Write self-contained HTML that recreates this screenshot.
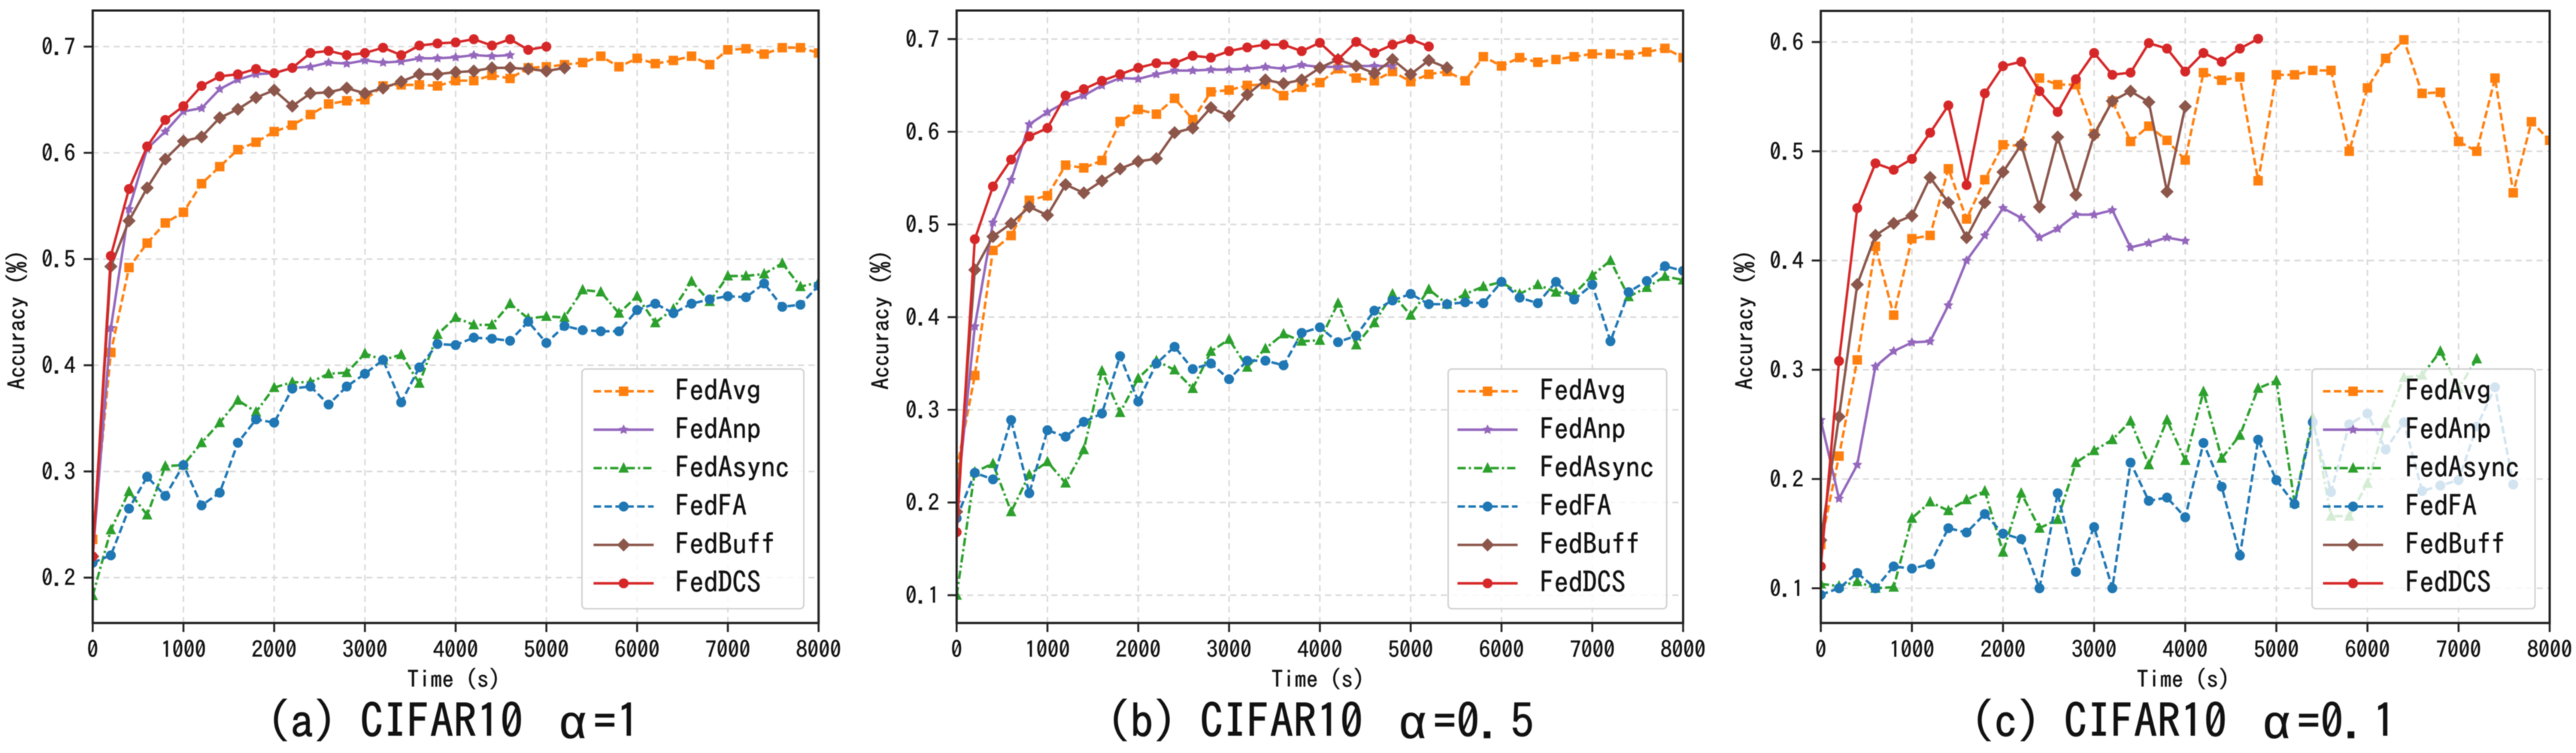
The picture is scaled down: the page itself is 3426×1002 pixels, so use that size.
<!DOCTYPE html>
<html lang="en">
<head>
<meta charset="utf-8">
<title>CIFAR10 accuracy over time</title>
<style>
  html, body { margin: 0; padding: 0; background: #fff; }
  #figure { display: block; width: 3426px; height: 1002px; filter: blur(0.6px); }
  text { font-family: "IPAGothic", "Liberation Mono", "Noto Sans CJK SC", monospace; fill: #111; stroke: #111; stroke-width: 0.45px; }
  .caption { font-size: 62px; stroke-width: 0.7px; }
  .alpha { font-family: "Liberation Sans", sans-serif; }
  .axis-title { font-size: 31px; }
  .tick-label { font-size: 30px; }
  .legend-label { font-size: 38px; }
</style>
</head>
<body>
<svg id="figure" xmlns="http://www.w3.org/2000/svg" width="3426" height="1002" viewBox="0 0 3426 1002">
  <rect x="0" y="0" width="3426" height="1002" fill="#fff"/>
  <g id="panel-a"></g>
  <g id="panel-b"></g>
  <g id="panel-c"></g>
  <text class="caption" x="355" y="982" xml:space="preserve">(a) CIFAR10 <tspan class="alpha" dx="17">α</tspan><tspan dx="9">=1</tspan></text>
  <text class="caption" x="1472" y="982" xml:space="preserve">(b) CIFAR10 <tspan class="alpha" dx="17">α</tspan><tspan dx="9">=0.</tspan><tspan dx="10">5</tspan></text>
  <text class="caption" x="2621" y="982" xml:space="preserve">(c) CIFAR10 <tspan class="alpha" dx="17">α</tspan><tspan dx="9">=0.</tspan><tspan dx="8">1</tspan></text>
</svg>
<script>
// ---------- shared categories and tick labels ----------
const times = [0,200,400,600,800,1000,1200,1400,1600,1800,2000,2200,2400,2600,2800,3000,3200,3400,3600,3800,4000,4200,4400,4600,4800,5000,5200,5400,5600,5800,6000,6200,6400,6600,6800,7000,7200,7400,7600,7800,8000];
const xTicks = [0,1000,2000,3000,4000,5000,6000,7000,8000];
const yTicksA = [0.2,0.3,0.4,0.5,0.6,0.7];
const yTicksB = [0.1,0.2,0.3,0.4,0.5,0.6,0.7];
const yTicksC = [0.1,0.2,0.3,0.4,0.5,0.6];
const seriesNames = ['FedAvg','FedAnp','FedAsync','FedFA','FedBuff','FedDCS'];

// ---------- panel (a) alpha = 1 ----------
const aFedAvg = [.236,.412,.492,.515,.534,.544,.571,.587,.603,.610,.620,.626,.636,.646,.649,.650,.663,.664,.664,.663,.668,.668,.673,.670,.680,.681,.683,.685,.691,.681,.689,.684,.687,.691,.683,.697,.698,.693,.699,.699,.694];
const aFedAnp = [.220,.435,.547,.604,.620,.639,.642,.660,.669,.674,.675,.680,.681,.685,.684,.687,.685,.686,.689,.689,.690,.692,.691,.692];
const aFedAsync = [.183,.245,.281,.259,.305,.306,.327,.346,.367,.356,.379,.384,.384,.392,.393,.411,.405,.410,.383,.429,.445,.438,.438,.458,.444,.446,.445,.471,.469,.449,.465,.440,.453,.479,.460,.484,.484,.486,.496,.474,.478];
const aFedFA = [.214,.221,.265,.295,.277,.306,.268,.280,.327,.349,.346,.378,.380,.363,.380,.392,.405,.365,.398,.420,.419,.426,.425,.423,.441,.421,.437,.433,.432,.432,.452,.458,.449,.458,.462,.465,.464,.477,.455,.457,.475];
const aFedBuff = [.220,.493,.536,.567,.594,.611,.615,.633,.641,.652,.659,.644,.656,.657,.661,.656,.661,.667,.674,.674,.676,.677,.680,.680,.679,.677,.680];
const aFedDCS = [.220,.503,.566,.606,.631,.644,.663,.672,.674,.679,.675,.680,.694,.696,.692,.694,.699,.692,.701,.703,.704,.707,.701,.707,.697,.700];

// ---------- panel (b) alpha = 0.5 ----------
const bFedAvg = [.235,.337,.472,.488,.526,.531,.564,.561,.569,.611,.624,.619,.636,.613,.643,.645,.650,.651,.639,.648,.653,.668,.658,.655,.665,.654,.662,.665,.655,.681,.671,.680,.675,.678,.681,.684,.684,.683,.686,.690,.680];
const bFedAnp = [.200,.390,.502,.548,.608,.621,.632,.639,.650,.658,.657,.662,.666,.666,.667,.667,.668,.670,.668,.672,.670,.670,.671,.671,.671];
const bFedAsync = [.100,.233,.242,.190,.230,.244,.221,.257,.342,.297,.334,.353,.343,.323,.363,.376,.346,.366,.382,.374,.375,.415,.370,.394,.425,.402,.430,.414,.425,.433,.438,.425,.435,.427,.425,.445,.461,.422,.432,.444,.440];
const bFedFA = [.183,.232,.225,.289,.210,.278,.271,.287,.296,.358,.309,.350,.368,.344,.350,.333,.353,.353,.348,.383,.389,.373,.380,.407,.418,.425,.414,.414,.416,.415,.438,.421,.415,.438,.419,.435,.374,.427,.439,.455,.450];
const bFedBuff = [.190,.451,.487,.501,.519,.510,.543,.534,.547,.560,.568,.571,.599,.604,.626,.617,.640,.656,.652,.656,.669,.678,.671,.663,.678,.662,.677,.669];
const bFedDCS = [.168,.484,.541,.570,.595,.604,.639,.646,.655,.662,.669,.674,.674,.682,.680,.687,.691,.694,.694,.687,.696,.678,.697,.685,.694,.700,.692];

// ---------- panel (c) alpha = 0.1 ----------
const cFedAvg = [.140,.221,.309,.413,.350,.420,.423,.484,.438,.474,.506,.505,.567,.561,.561,.516,.546,.509,.523,.510,.492,.572,.565,.568,.473,.570,.570,.574,.574,.500,.558,.585,.602,.553,.554,.509,.500,.567,.462,.527,.510];
const cFedAnp = [.254,.182,.213,.303,.317,.325,.326,.359,.400,.423,.448,.439,.421,.429,.442,.442,.446,.412,.416,.421,.418];
const cFedAsync = [.104,.102,.106,.100,.101,.164,.179,.171,.181,.189,.133,.187,.155,.163,.215,.226,.236,.253,.213,.254,.217,.280,.219,.240,.283,.290,.178,.256,.166,.166,.196,.251,.293,.295,.317,.283,.310];
const cFedFA = [.094,.100,.114,.100,.120,.118,.122,.155,.151,.168,.150,.145,.100,.187,.115,.156,.100,.215,.180,.183,.165,.233,.193,.130,.236,.199,.177,.252,.188,.250,.260,.227,.252,.189,.194,.199,.248,.284,.195];
const cFedBuff = [.144,.257,.378,.423,.434,.441,.476,.453,.421,.453,.481,.506,.449,.513,.460,.515,.546,.555,.545,.463,.541];
const cFedDCS = [.120,.308,.448,.489,.483,.493,.517,.542,.469,.553,.578,.582,.555,.536,.566,.590,.570,.572,.599,.594,.573,.590,.582,.594,.603];

const NS = 'http://www.w3.org/2000/svg';
const styles = [
  { color: '#ff7f0e', dash: '10 4.5',       marker: 'square',   width: 3.3 },
  { color: '#9467bd', dash: '',             marker: 'star',     width: 3.3 },
  { color: '#2ca02c', dash: '11 4 3 4',     marker: 'triangle', width: 3.3 },
  { color: '#1f77b4', dash: '10 4.5',       marker: 'circle',   width: 3.3 },
  { color: '#8c564b', dash: '',             marker: 'diamond',  width: 3.3 },
  { color: '#d62728', dash: '',             marker: 'circle',   width: 3.3 }
];

function svgEl(tag, attrs, parent) {
  const el = document.createElementNS(NS, tag);
  for (const k in attrs) el.setAttribute(k, attrs[k]);
  parent.appendChild(el);
  return el;
}

function drawMarker(kind, cx, cy, color, parent) {
  let el;
  if (kind === 'square') {
    el = svgEl('rect', { x: cx - 6.3, y: cy - 6.3, width: 12.6, height: 12.6, fill: color }, parent);
  } else if (kind === 'circle') {
    el = svgEl('circle', { cx: cx, cy: cy, r: 6.6, fill: color }, parent);
  } else if (kind === 'diamond') {
    const pts = [[cx, cy - 8.8], [cx + 8.8, cy], [cx, cy + 8.8], [cx - 8.8, cy]].map(p => p.join(',')).join(' ');
    el = svgEl('polygon', { points: pts, fill: color }, parent);
  } else if (kind === 'triangle') {
    const pts = [[cx, cy - 8], [cx + 7, cy + 6], [cx - 7, cy + 6]].map(p => p.join(',')).join(' ');
    el = svgEl('polygon', { points: pts, fill: color }, parent);
  } else {
    const ring = [];
    for (let k = 0; k < 10; k++) {
      const r = k % 2 ? 3.6 : 7;
      const a = -Math.PI / 2 + k * Math.PI / 5;
      ring.push((cx + r * Math.cos(a)) + ',' + (cy + r * Math.sin(a)));
    }
    el = svgEl('polygon', { points: ring.join(' '), fill: color }, parent);
  }
  
  
  return el;
}

function drawPanel(id, box, yDomain, yTicks, panelSeries, legend) {
  const root = document.getElementById(id);
  const xScale = v => box.left + (v - 0) / 8000 * (box.right - box.left);
  const yScale = v => box.bottom - (v - yDomain[0]) / (yDomain[1] - yDomain[0]) * (box.bottom - box.top);

  const gridGroup = svgEl('g', { stroke: '#d9d9d9', 'stroke-width': 2, 'stroke-dasharray': '8 6' }, root);
  
  
  xTicks.forEach(t => {
    const line = svgEl('line', { x1: xScale(t), x2: xScale(t), y1: box.bottom, y2: box.top }, gridGroup);
    
    
  });
  yTicks.forEach(t => {
    const line = svgEl('line', { x1: box.left, x2: box.right, y1: yScale(t), y2: yScale(t) }, gridGroup);
    
    
  });

  const clipId = id + '-clip';
  const defs = svgEl('defs', {}, root);
  const clip = svgEl('clipPath', { id: clipId }, defs);
  svgEl('rect', { x: box.left, y: box.top, width: box.right - box.left, height: box.bottom - box.top }, clip);

  const plot = svgEl('g', { 'clip-path': 'url(#' + clipId + ')' }, root);
  
  
  panelSeries.forEach((values, i) => {
    const s = styles[i];
    const g = svgEl('g', {}, plot);
    
    
    const pts = values.map((v, k) => xScale(times[k]) + ',' + yScale(v)).join(' ');
    const attrs = { points: pts, fill: 'none', stroke: s.color, 'stroke-width': s.width, 'stroke-linejoin': 'round' };
    if (s.dash) attrs['stroke-dasharray'] = s.dash;
    const line = svgEl('polyline', attrs, g);
    
    
    values.forEach((v, k) => drawMarker(s.marker, xScale(times[k]), yScale(v), s.color, g));
  });

  const axes = svgEl('g', { stroke: '#222', 'stroke-width': 2.6 }, root);
  
  
  const frame = svgEl('rect', { x: box.left, y: box.top, width: box.right - box.left, height: box.bottom - box.top, fill: 'none', stroke: '#222', 'stroke-width': 3 }, axes);
  
  

  xTicks.forEach(t => {
    const mark = svgEl('line', { x1: xScale(t), x2: xScale(t), y1: box.bottom, y2: box.bottom + 12 }, axes);
    
    
    const label = svgEl('text', { class: 'tick-label', x: xScale(t), y: box.bottom + 46, 'text-anchor': 'middle' }, root);
    
    
    label.textContent = String(t);
  });
  yTicks.forEach(t => {
    const mark = svgEl('line', { x1: box.left - 12, x2: box.left, y1: yScale(t), y2: yScale(t) }, axes);
    
    
    const label = svgEl('text', { class: 'tick-label', x: box.left - 23, y: yScale(t) + 11, 'text-anchor': 'end' }, root);
    
    
    label.textContent = t.toFixed(1);
  });

  const xTitle = svgEl('text', { class: 'axis-title', x: (box.left + box.right) / 2 - 2.5, y: 915, 'text-anchor': 'middle' }, root);
  
  
  xTitle.textContent = 'Time (s)';
  const yX = box.left - 90;
  const yTitle = svgEl('text', { class: 'axis-title', x: yX, y: 425.5, 'text-anchor': 'middle', transform: 'rotate(-90 ' + yX + ' 425.5)' }, root);
  
  
  yTitle.textContent = 'Accuracy (%)';

  const lg = svgEl('g', {}, root);
  
  
  const lgBox = svgEl('rect', { x: legend.left, y: legend.top, width: legend.right - legend.left, height: legend.bottom - legend.top, rx: 5, ry: 5, fill: '#fff', 'fill-opacity': 0.8, stroke: '#d2d2d2', 'stroke-width': 2 }, lg);
  
  
  seriesNames.forEach((name, i) => {
    const s = styles[i];
    const rowY = 520.7 + i * 51.1;
    const entry = svgEl('g', {}, lg);
    
    
    const attrs = { x1: legend.handle, x2: legend.handle + 80, y1: rowY, y2: rowY, stroke: s.color, 'stroke-width': s.width };
    if (s.dash) attrs['stroke-dasharray'] = s.dash;
    const h = svgEl('line', attrs, entry);
    
    
    drawMarker(s.marker, legend.handle + 40, rowY, s.color, entry);
    const t = svgEl('text', { class: 'legend-label', x: legend.text, y: rowY + 12.5 }, entry);
    
    
    t.textContent = name;
  });
}

drawPanel('panel-a',
  { left: 123.3, right: 1088.7, top: 14, bottom: 829 },
  [0.1573, 0.7340], yTicksA,
  [aFedAvg, aFedAnp, aFedAsync, aFedFA, aFedBuff, aFedDCS],
  { left: 774, right: 1069, top: 491, bottom: 810, handle: 789.4, text: 898 });
drawPanel('panel-b',
  { left: 1272.3, right: 2238.5, top: 14, bottom: 829 },
  [0.0700, 0.7308], yTicksB,
  [bFedAvg, bFedAnp, bFedAsync, bFedFA, bFedBuff, bFedDCS],
  { left: 1926, right: 2216.6, top: 491, bottom: 810, handle: 1938.4, text: 2048 });
drawPanel('panel-c',
  { left: 2421.6, right: 3391, top: 14.5, bottom: 829 },
  [0.0682, 0.6285], yTicksC,
  [cFedAvg, cFedAnp, cFedAsync, cFedFA, cFedBuff, cFedDCS],
  { left: 3075, right: 3371.5, top: 491, bottom: 810, handle: 3089.5, text: 3199 });
</script>
</body>
</html>
